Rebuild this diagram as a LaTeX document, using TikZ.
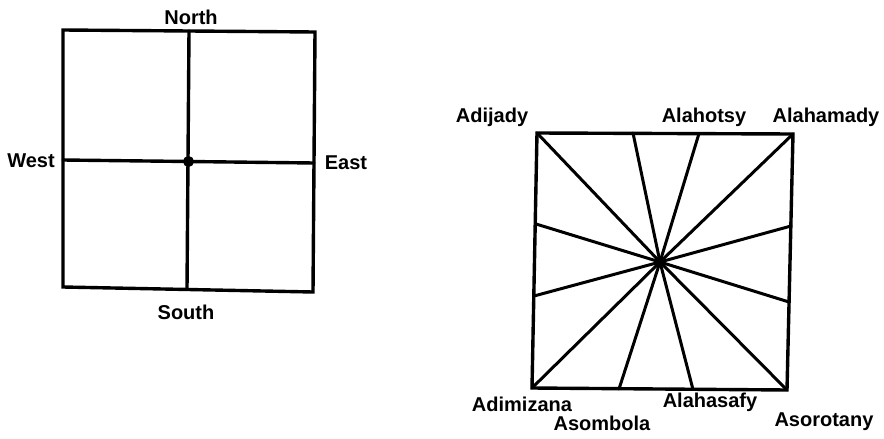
\documentclass[tikz,border=0pt]{standalone}
\usepackage{fontspec}
\setmainfont{Liberation Sans}
\begin{document}
\begin{tikzpicture}[x=1pt,y=-1pt,
  lab/.style={inner sep=0pt,font=\fontsize{20}{20}\selectfont\bfseries},
  edge/.style={line width=3.4pt,line join=miter,line cap=round},
  ray/.style={line width=3pt,line cap=round}]
\useasboundingbox (0,0) rectangle (884,439);
% left square
\coordinate (ltl) at (63,30);
\coordinate (ltr) at (315,32);
\coordinate (lbr) at (313,292);
\coordinate (lbl) at (63,287);
\coordinate (ln) at (189,31);
\coordinate (ls) at (187,289);
\coordinate (lw) at (63,160);
\coordinate (le) at (314,163);
\coordinate (lc) at (188.5,161.5);
\draw[edge] (ltl) -- (ltr) -- (lbr) -- (lbl) -- cycle;
\draw[edge] (ln) -- (ls);
\draw[edge] (lw) -- (le);
\fill (lc) circle (5.5);
\node[lab] (north) at (191,17) {North};
\node[lab] (south) at (186,312) {South};
\node[lab] (west) at (31,161) {West};
\node[lab] (east) at (346,163) {East};
% right square
\coordinate (rtl) at (537,133);
\coordinate (rtr) at (793,134);
\coordinate (rbr) at (787,390);
\coordinate (rbl) at (532,388);
\coordinate (rc) at (660,262);
\coordinate (t1) at (633,133);
\coordinate (t2) at (699,133.5);
\coordinate (l1) at (536,224);
\coordinate (l2) at (534,296);
\coordinate (r1) at (791,226);
\coordinate (r2) at (789,302);
\coordinate (b1) at (619,389);
\coordinate (b2) at (693,389.5);
\draw[edge] (rtl) -- (rtr) -- (rbr) -- (rbl) -- cycle;
\foreach \p in {rtl,rtr,rbr,rbl,t1,t2,l1,l2,r1,r2,b1,b2}
  \draw[ray] (rc) -- (\p);
\node[lab] (adijady) at (492,117) {Adijady};
\node[lab] (alahotsy) at (704,117) {Alahotsy};
\node[lab] (alahamady) at (826,117) {Alahamady};
\node[lab] (adimizana) at (522,404) {Adimizana};
\node[lab] (asombola) at (602,423) {Asombola};
\node[lab] (alahasafy) at (710,402) {Alahasafy};
\node[lab] (asorotany) at (824,422) {Asorotany};
\end{tikzpicture}
\end{document}
